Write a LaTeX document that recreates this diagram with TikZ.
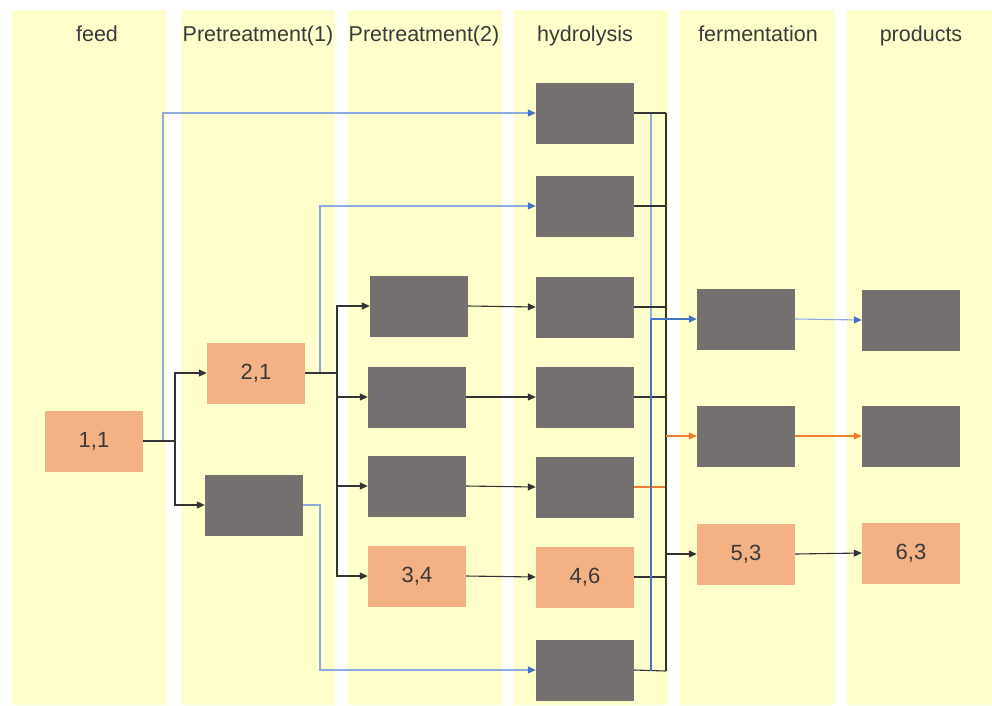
\documentclass[tikz,border=0pt]{standalone}
\usepackage{fontspec}
\setmainfont{Liberation Sans}
\usetikzlibrary{arrows.meta}
\definecolor{band}{HTML}{FFFFCC}
\definecolor{boxgray}{HTML}{767171}
\definecolor{salmon}{HTML}{F4B183}
\definecolor{txt}{HTML}{3A3A3A}
\definecolor{lnk}{HTML}{333333}
\definecolor{lblue}{HTML}{8FAADC}
\definecolor{dblue}{HTML}{4472C4}
\definecolor{orng}{HTML}{ED7D31}
\tikzset{
  bandbox/.style={fill=band, draw=none},
  head/.style={text=txt, font=\fontsize{21.5}{24}\selectfont, anchor=base, inner sep=0pt},
  graybox/.style={fill=boxgray, draw=none, minimum width=98pt, minimum height=61pt, inner sep=0pt},
  salbox/.style={fill=salmon, draw=none, minimum width=98pt, minimum height=61pt, inner sep=0pt, text=txt, font=\fontsize{22}{24}\selectfont},
  blk/.style={draw=lnk, line width=1.1pt},
  blkarr/.style={blk, -{Stealth[length=8pt,width=7pt,inset=0pt]}},
  bln/.style={draw=lblue, line width=1.1pt},
  blarr/.style={bln, -{Stealth[length=8pt,width=7pt,inset=0pt,color=dblue]}},
  orarr/.style={draw=orng, line width=1.1pt, -{Stealth[length=8pt,width=7pt,inset=0pt]}},
}
\begin{document}
\begin{tikzpicture}[x=1pt,y=-1pt]
\useasboundingbox (0,0) rectangle (992,705);
% bands
\fill[bandbox] (12,10) rectangle (166,705);
\fill[bandbox] (181,10) rectangle (335,705);
\fill[bandbox] (348,10) rectangle (502,705);
\fill[bandbox] (514,10) rectangle (668,705);
\fill[bandbox] (680,10) rectangle (835,705);
\fill[bandbox] (847,10) rectangle (992,705);
% headers
\node[head] (h-feed) at (97,41) {feed};
\node[head] (h-pt1) at (258,41) {Pretreatment(1)};
\node[head] (h-pt2) at (424,41) {Pretreatment(2)};
\node[head] (h-hyd) at (585,41) {hydrolysis};
\node[head] (h-fer) at (758,41) {fermentation};
\node[head] (h-pro) at (921,41) {products};
% nodes
\node[salbox] (n11) at (94,441) {1,1};
\node[salbox] (n21) at (256,373) {2,1};
\node[graybox] (p1g) at (254,505) {};
\node[graybox] (p2a) at (419,306) {};
\node[graybox] (p2b) at (417,397) {};
\node[graybox] (p2c) at (417,486) {};
\node[salbox] (p34) at (417,576) {3,4};
\node[graybox] (h1) at (585,113) {};
\node[graybox] (h2) at (585,206) {};
\node[graybox] (h3) at (585,307) {};
\node[graybox] (h4) at (585,397) {};
\node[graybox] (h5) at (585,487) {};
\node[salbox] (h46) at (585,577) {4,6};
\node[graybox] (h7) at (585,670) {};
\node[graybox] (f1) at (746,319) {};
\node[graybox] (f2) at (746,436) {};
\node[salbox] (f53) at (746,554) {5,3};
\node[graybox] (pr1) at (911,320) {};
\node[graybox] (pr2) at (911,436) {};
\node[salbox] (pr63) at (911,553) {6,3};
% junction coordinates
\coordinate (j1) at (175,441);
\coordinate (b1) at (163,441);
\coordinate (j2) at (337,373);
\coordinate (b2) at (320,373);
\coordinate (b3) at (320,505);
\coordinate (bustop) at (666,113);
\coordinate (busbot) at (666,671);
\coordinate (bltop) at (651,113);
\coordinate (blbot) at (651,671);
\coordinate (blout) at (651,319);
\coordinate (orout) at (666,436);
\coordinate (bkout) at (666,554);
% feed -> pretreatment 1
\draw[blarr] (b1) |- (h1.west);
\draw[blk] (n11.east) -- (j1);
\draw[blkarr] (j1) |- (n21.west);
\draw[blkarr] (j1) |- (p1g.west);
% pretreatment 1 -> others
\draw[bln] (n21.east) -- (b2);
\draw[blarr] (b2) |- (h2.west);
\draw[blk] (n21.east) -- (j2);
\draw[blkarr] (j2) |- (p2a.west);
\draw[blkarr] (j2) |- (p2b.west);
\draw[blkarr] (j2) |- (p2c.west);
\draw[blkarr] (j2) |- (p34.west);
\draw[blarr] (p1g.east) -- (b3) |- (h7.west);
% pretreatment 2 -> hydrolysis
\draw[blkarr] (p2a.east) -- (h3.west);
\draw[blkarr] (p2b.east) -- (h4.west);
\draw[blkarr] (p2c.east) -- (h5.west);
\draw[blkarr] (p34.east) -- (h46.west);
% hydrolysis bus
\draw[bln] (bltop) -- (blbot);
\draw[blk] (h1.east) -- (bustop);
\draw[blk] (h2.east) -- (h2.east -| bustop);
\draw[blk] (h3.east) -- (h3.east -| bustop);
\draw[blk] (h4.east) -- (h4.east -| bustop);
\draw[draw=orng, line width=1.1pt] (h5.east) -- (h5.east -| bustop);
\draw[blk] (h46.east) -- (h46.east -| bustop);
\draw[blk] (h7.east) -- (busbot);
\draw[blk] (bustop) -- (busbot);
\draw[draw=dblue, line width=1.3pt] (blout) -- (blbot);
% to fermentation
\draw[draw=dblue, line width=1.3pt, -{Stealth[length=8pt,width=7pt,inset=0pt]}] (blout) -- (f1.west);
\draw[orarr] (orout) -- (f2.west);
\draw[blkarr] (bkout) -- (f53.west);
% to products
\draw[blarr] (f1.east) -- (pr1.west);
\draw[orarr] (f2.east) -- (pr2.west);
\draw[blkarr] (f53.east) -- (pr63.west);
\end{tikzpicture}
\end{document}
